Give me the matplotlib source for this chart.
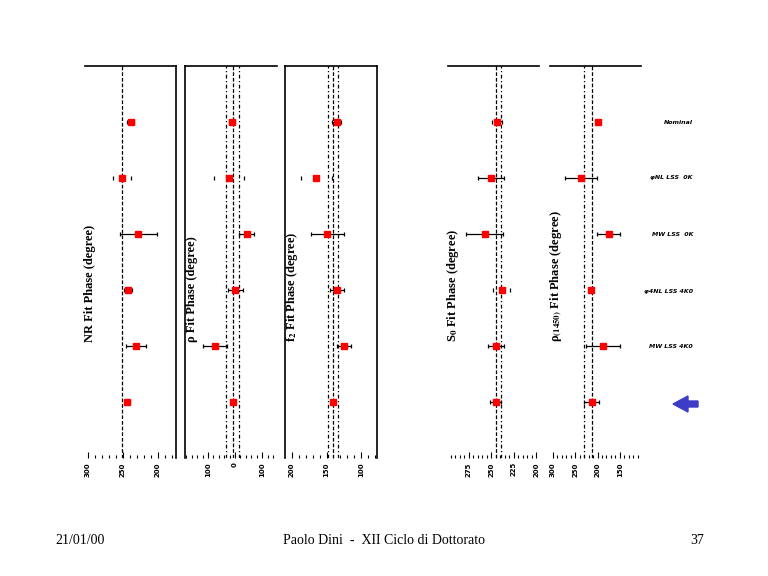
import matplotlib
matplotlib.use("Agg")
import matplotlib.pyplot as plt
import numpy as np
from matplotlib.patches import Polygon

plt.rcParams["mathtext.fontset"] = "stix"

# ---------------- data ----------------
rows = [1, 2, 3, 4, 5, 6]
row_labels = ["Nominal", "\u03c6NL LSS  0K", "MW LSS  0K", "\u03c64NL LSS 4K0", "MW LSS 4K0", ""]

nr_phase = [239.0, 251.4, 227.6, 242.9, 231.4, 243.3]
nr_err = [4.7, 12.9, 26.7, 6.1, 14.0, 3.0]
nr_caps_only = [False, True, False, False, False, False]
nr_ref = [251.0]

rho_phase = [10.0, 22.0, -43.0, -1.0, 74.0, 7.4]
rho_err = [11.0, 55.0, 28.0, 28.0, 43.0, 7.0]
rho_caps_only = [False, True, False, False, False, False]
rho_ref_dd = [33.0, -16.0]
rho_ref_d = [6.3]

f2_phase = [135.5, 164.5, 149.0, 134.5, 125.0, 140.9]
f2_err = [6.1, 23.0, 23.6, 10.0, 9.7, 3.0]
f2_caps_only = [False, True, False, False, False, False]
f2_ref_dd = [147.7, 133.0]
f2_ref_d = [140.4]

s0_phase = [243.8, 250.8, 257.4, 238.2, 244.4, 245.2]
s0_err = [5.6, 14.4, 20.9, 9.4, 8.9, 5.9]
s0_caps_only = [True, False, False, True, False, False]
s0_ref_dd = [239.7]
s0_ref_d = [245.2]

r1450_phase = [199.5, 236.6, 175.0, 214.4, 187.6, 212.8]
r1450_err = [0.0, 36.0, 26.0, 0.0, 37.0, 17.0]
r1450_caps_only = [False, False, False, False, False, False]
r1450_ref_dd = [229.3]
r1450_ref_d = [212.8]

nr_ticks = [300, 250, 200]
rho_ticks = [100, 0, -100]
rho_ticklabels = ["100", "0", "100"]
f2_ticks = [200, 150, 100]
s0_ticks = [275, 250, 225, 200]
r1450_ticks = [300, 250, 200, 150]

# ---------------- figure ----------------
W, H = 768, 576
fig = plt.figure(figsize=(W / 100, H / 100), dpi=100)
fig.patch.set_facecolor("white")

SERIF = ["Liberation Serif", "DejaVu Serif"]

def add_panel(x0, x1, xlim, phase, err, caps_only, ticks, ticklabels, minor_step,
              ref_dd, ref_d, label, spines, label_x):
    y0, y1 = 66, 458
    ax = fig.add_axes([x0 / W, 1 - y1 / H, (x1 - x0) / W, (y1 - y0) / H])
    ax.set_xlim(*xlim)
    ax.set_ylim(7, 0)
    ax.set_facecolor("none")
    for s in ["top", "bottom", "left", "right"]:
        ax.spines[s].set_visible(s in spines)
        ax.spines[s].set_linewidth(1.2)
    ax.set_yticks([])
    ax.set_xticks(ticks)
    ax.set_xticklabels(ticklabels if ticklabels else [str(t) for t in ticks],
                       rotation=90, fontsize=5, family="DejaVu Sans", fontweight="bold")
    lo, hi = min(xlim), max(xlim)
    minors = np.arange(np.ceil(lo / minor_step) * minor_step, hi, minor_step)
    ax.set_xticks(minors, minor=True)
    ax.tick_params(axis="x", which="major", direction="in", length=4, width=0.8, pad=3)
    ax.tick_params(axis="x", which="minor", direction="in", length=2, width=0.8)
    for v in ref_dd:
        ax.axvline(v, color="black", lw=0.9, ls=(0, (3, 2, 1, 2)), zorder=1)
    for v in ref_d:
        ax.axvline(v, color="black", lw=0.9, ls=(0, (3, 1.5)), zorder=1)
    ph = np.array(phase); er = np.array(err); co = np.array(caps_only)
    yy = np.array(rows, dtype=float)
    m = ~co
    ax.errorbar(ph[m], yy[m], xerr=er[m], fmt="none", ecolor="black",
                elinewidth=0.9, capsize=1.6, capthick=0.9, zorder=2)
    if co.any():
        ax.errorbar(ph[co], yy[co], xerr=er[co], fmt="none", ecolor="black",
                    elinewidth=0, capsize=1.6, capthick=0.9, zorder=2)
    ax.plot(ph, yy, "s", color="red", ms=4.0, mec="red", zorder=3)
    # axis label written inside the panel
    fig.text(label_x / W, 1 - 342 / H, label, rotation=90, ha="center", va="bottom",
             fontsize=9, family=SERIF, fontweight="bold")
    return ax

add_panel(85, 176, (304, 174), nr_phase, nr_err, nr_caps_only, nr_ticks, None, 10,
          [], nr_ref, "NR Fit Phase (degree)", ["top", "right"], 90)
add_panel(185, 277, (185, -155), rho_phase, rho_err, rho_caps_only, rho_ticks,
          rho_ticklabels, 20, rho_ref_dd, rho_ref_d, "\u03c1 Fit Phase (degree)",
          ["top", "left"], 192)
add_panel(285, 377, (210, 77), f2_phase, f2_err, f2_caps_only, f2_ticks, None, 10,
          f2_ref_dd, f2_ref_d, r"f$_{\mathbf{2}}$ Fit Phase (degree)", ["top", "left", "right"], 292)
add_panel(448, 539, (298, 197), s0_phase, s0_err, s0_caps_only, s0_ticks, None, 5,
          s0_ref_dd, s0_ref_d, r"S$_{\mathbf{0}}$ Fit Phase (degree)", ["top"], 453)
add_panel(550, 641, (306, 103), r1450_phase, r1450_err, r1450_caps_only, r1450_ticks,
          None, 10, r1450_ref_dd, r1450_ref_d, "\u03c1$_{\\mathbf{(1450)}}$ Fit Phase (degree)",
          ["top"], 556)

# row labels on the right
ylab = [122, 178, 234, 291, 347, 404]
for lab, yp in zip(row_labels, ylab):
    if lab:
        fig.text(693 / W, 1 - yp / H, lab, ha="right", va="center", fontsize=4.5,
                 family="DejaVu Sans", fontstyle="italic", fontweight="bold")

# blue arrow pointing left at the last row
arrow_pts = [(673, 404), (688, 396), (688, 401), (698, 401), (698, 407), (688, 407), (688, 412)]
arrow = Polygon([(x / W, 1 - y / H) for x, y in arrow_pts], closed=True,
                transform=fig.transFigure, facecolor="#3c3cc8", edgecolor="#3c3cc8")
fig.patches.append(arrow)

# footer
fig.text(55 / W, 1 - 540 / H, "21/01/00", ha="left", va="center", fontsize=10, family=SERIF)
fig.text(384 / W, 1 - 540 / H, "Paolo Dini  -  XII Ciclo di Dottorato", ha="center",
         va="center", fontsize=10, family=SERIF)
fig.text(704 / W, 1 - 540 / H, "37", ha="right", va="center", fontsize=10, family=SERIF)

fig.savefig("out.png", dpi=100)
